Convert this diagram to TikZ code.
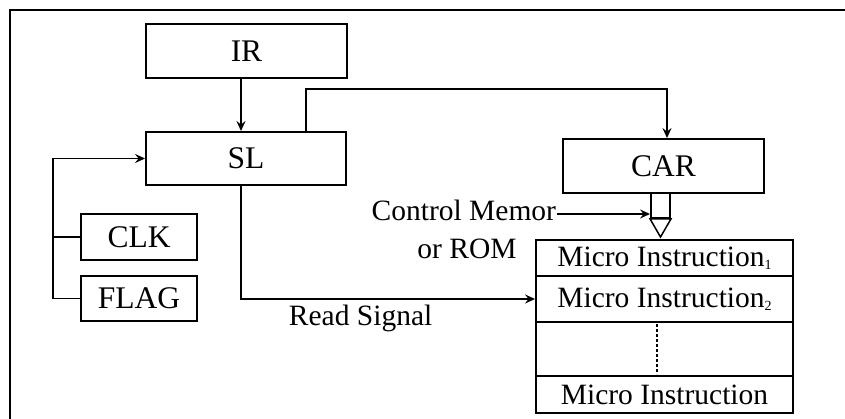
\documentclass[tikz,border=0pt]{standalone}
\usepackage{fontspec}
\setmainfont{Liberation Serif}
\usetikzlibrary{arrows.meta}
\newcommand{\lowidx}[1]{\raisebox{-0.25ex}{\fontsize{14}{14}\selectfont #1}}
\begin{document}
\begin{tikzpicture}[x=1pt,y=-1pt,
  line width=1.9pt,
  every node/.style={font=\fontsize{29.5}{34}\selectfont, inner sep=0pt},
  blk/.style={draw, rectangle, font=\fontsize{31.5}{36}\selectfont},
  row/.style={draw, rectangle, minimum width=257pt},
  arr/.style={-{Stealth[length=10pt,width=9pt,inset=3.5pt]}},
  thin line/.style={line width=1.5pt}]
\useasboundingbox (0,0) rectangle (845,419);

% frame (top and left edges)
\draw (845,10) -- (10,10) -- (10,419);

% boxes
\node[blk, minimum width=201pt, minimum height=54pt] (IR) at (246.5,51) {IR};
\node[blk, minimum width=200pt, minimum height=53pt] (SL) at (246,158.5) {SL};
\node[blk, minimum width=201pt, minimum height=54pt] (CAR) at (663.5,166) {CAR};
\node[blk, minimum width=116pt, minimum height=46pt] (CLK) at (139,237) {CLK};
\node[blk, minimum width=116pt, minimum height=45pt] (FLAG) at (139,298.5) {FLAG};

% control memory rows
\node[row, minimum height=36pt] (m1) at (664.5,258) {Micro Instruction\lowidx{1}};
\node[row, minimum height=46pt] (m2) at (664.5,299) {Micro Instruction\lowidx{2}};
\node[row, minimum height=54pt] (m3) at (664.5,349) {};
\node[row, minimum height=37pt] (m4) at (664.5,394.5) {Micro Instruction};
\draw[thin line, dash pattern=on 3pt off 2pt] (657,324) -- (657,374);

% output buffer of CAR
\node[draw, rectangle, minimum width=19pt, minimum height=25pt] (buf) at (660.5,205.5) {};
\draw[thin line] (buf.south west) -- (buf.south east) -- (660.5,237) -- cycle;

% labels
\node[anchor=base east] (cm) at (557,221) {Control Memor};
\node[anchor=base] (rom) at (467,259) {or ROM};
\node[anchor=base west] (rs) at (288,325) {Read Signal};

% routing coordinates
\coordinate (busx) at (241,0);
\coordinate (carx) at (306,89);
\coordinate (cary) at (667,89);
\coordinate (fbx) at (53,0);

% connectors
\draw[arr] (IR.south -| busx) -- (SL.north -| busx);
\draw[arr] (SL.north -| carx) -- (carx) -- (cary) -- (CAR.north -| cary);
\draw[arr] (SL.south -| busx) |- (m2.west);
\draw[arr] (FLAG.west) -- (FLAG.west -| fbx) |- (SL.west);
\draw (CLK.west) -- (CLK.west -| fbx);
\draw[arr, thin line] (cm.east |- 0,214) -- (buf.west |- 0,214);
\end{tikzpicture}
\end{document}
